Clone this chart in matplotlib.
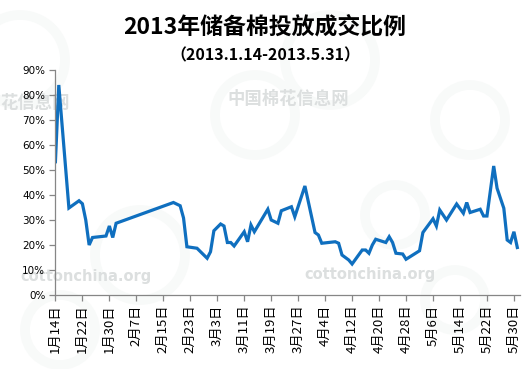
import numpy as np
import pandas as pd
import matplotlib
matplotlib.use("Agg")
import matplotlib.pyplot as plt
from matplotlib.patches import Circle

plt.rcParams['font.family'] = ['Noto Sans CJK SC', 'DejaVu Sans']

# 成交日期（相对 2013-01-14 的天数）与成交比例（%）
day_offsets = [0, 1, 4, 7, 8, 9, 10, 11, 15, 16, 17, 18, 35, 37, 38, 39, 42, 45, 46, 47,
               49, 50, 51, 52, 53, 56, 57, 58, 59, 63, 64, 66, 67, 70, 71, 74, 77, 78, 79,
               83, 84, 85, 87, 88, 91, 92, 93, 94, 95, 98, 99, 100, 101, 103, 104, 108, 109,
               112, 113, 114, 116, 119, 121, 122, 123, 126, 127, 128, 130, 131, 133, 134,
               135, 136, 137]
ratio = [53.3, 84.0, 34.8, 37.7, 36.5, 30.0, 20.0, 23.0, 23.6, 27.6, 23.0, 28.7, 37.0, 35.7,
         30.8, 19.3, 18.7, 14.7, 17.3, 25.7, 28.4, 27.6, 21.0, 21.0, 19.6, 25.3, 21.3, 28.0,
         25.3, 34.3, 30.0, 28.7, 33.7, 35.3, 31.3, 43.6, 25.0, 24.0, 20.7, 21.3, 20.7, 16.0,
         14.0, 12.4, 18.0, 18.0, 16.7, 20.0, 22.3, 21.0, 23.3, 21.0, 16.7, 16.4, 14.3, 17.7,
         25.0, 30.5, 27.6, 34.0, 30.0, 36.4, 32.7, 37.0, 33.0, 34.3, 31.6, 31.6, 51.6, 42.7,
         34.7, 22.0, 21.0, 25.3, 19.0]

start = pd.Timestamp('2013-01-14')
dates = start + pd.to_timedelta(day_offsets, unit='D')
values = np.array(ratio) / 100.0

tick_dates = pd.date_range('2013-01-14', '2013-05-30', freq='8D')
tick_labels = [f"{d.month}月{d.day}日" for d in tick_dates]

title = '2013年储备棉投放成交比例'
subtitle = '（2013.1.14-2013.5.31）'

fig = plt.figure(figsize=(5.3, 3.69), dpi=100)
fig.patch.set_facecolor('white')

# 背景水印
bg = fig.add_axes([0, 0, 1, 1], zorder=0)
bg.set_xlim(0, 530)
bg.set_ylim(369, 0)
bg.axis('off')
for cx, cy, r in [(20, 60, 45), (255, 115, 40), (330, 60, 45), (140, 255, 45),
                  (395, 215, 30), (470, 120, 35), (60, 330, 35), (455, 300, 30)]:
    bg.add_patch(Circle((cx, cy), r, fill=False, lw=7, ec='#f8faf9'))
bg.text(0, 103, '花信息网', fontsize=12.5, fontweight='bold', color='#dcdfdf',
        ha='left', va='center')
bg.text(288, 99, '中国棉花信息网', fontsize=12.5, fontweight='bold', color='#dcdfdf',
        ha='center', va='center')
for tx, ty in [(86, 276), (370, 274)]:
    bg.text(tx, ty, 'cottonchina.org', fontsize=10.5, fontweight='bold',
            color='#dcdfdf', ha='center', va='center', family='DejaVu Sans')

ax = fig.add_axes([55 / 530, 1 - 295 / 369, 465 / 530, 225 / 369], zorder=1)
ax.patch.set_alpha(0)
ax.plot(dates, values, color='#0f6fbf', lw=2.3, solid_joinstyle='miter')

ax.set_ylim(0, 0.9)
ax.set_yticks(np.arange(0, 0.91, 0.1))
ax.set_yticklabels([f"{int(round(v * 100))}%" for v in np.arange(0, 0.91, 0.1)],
                   fontsize=7.5, family='DejaVu Sans')
ax.set_xlim(start - pd.Timedelta(hours=3), start + pd.Timedelta(days=137.8))
ax.set_xticks(tick_dates)
ax.set_xticklabels(tick_labels, rotation=90, fontsize=9.5)

for side in ['top', 'right']:
    ax.spines[side].set_visible(False)
for side in ['left', 'bottom']:
    ax.spines[side].set_color('#868686')
    ax.spines[side].set_linewidth(0.9)
ax.tick_params(axis='both', colors='#868686', length=4, width=0.9, labelcolor='black')
ax.tick_params(axis='y', pad=3)
ax.tick_params(axis='x', pad=3)

fig.text(0.5, 1 - 27 / 369, title, fontsize=16.5, fontweight='bold',
         ha='center', va='center')
fig.text(0.5, 1 - 55 / 369, subtitle, fontsize=11.5, fontweight='bold',
         ha='center', va='center')

fig.savefig('out.png', dpi=100, facecolor='white')
